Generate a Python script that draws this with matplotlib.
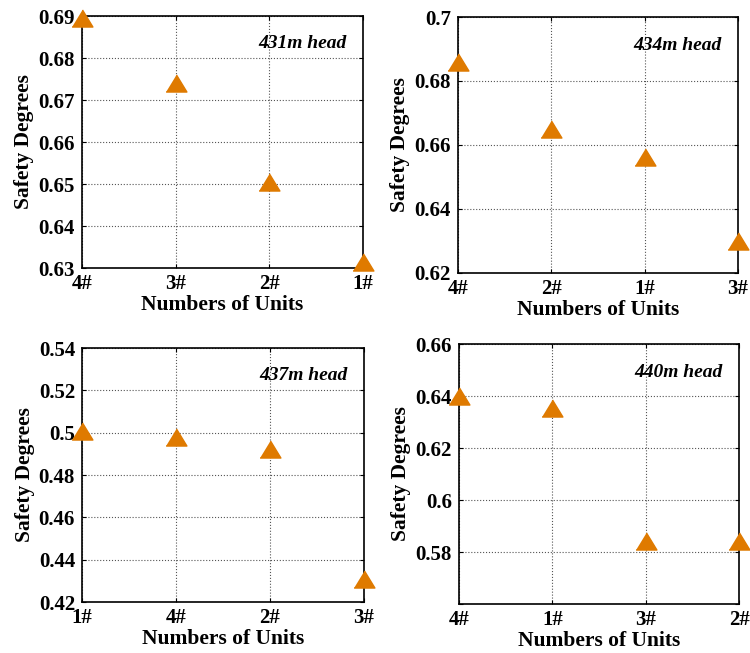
import matplotlib
matplotlib.use("Agg")
import matplotlib.pyplot as plt
import numpy as np

plt.rcParams['font.family'] = ['Liberation Serif', 'DejaVu Serif']

# Data
units_431 = ["4#", "3#", "2#", "1#"]
safety_431 = [0.6895, 0.674, 0.6505, 0.6315]
units_434 = ["4#", "2#", "1#", "3#"]
safety_434 = [0.686, 0.665, 0.6563, 0.630]
units_437 = ["1#", "4#", "2#", "3#"]
safety_437 = [0.501, 0.498, 0.4925, 0.431]
units_440 = ["4#", "1#", "3#", "2#"]
safety_440 = [0.640, 0.6355, 0.5842, 0.5842]

heads = ["431m head", "434m head", "437m head", "440m head"]
ylims = [(0.63, 0.69), (0.62, 0.70), (0.42, 0.54), (0.56, 0.66)]
yticks = [
    [0.63, 0.64, 0.65, 0.66, 0.67, 0.68, 0.69],
    [0.62, 0.64, 0.66, 0.68, 0.70],
    [0.42, 0.44, 0.46, 0.48, 0.50, 0.52, 0.54],
    [0.56, 0.58, 0.60, 0.62, 0.64, 0.66],
]
ytick_labels = [
    ["0.63", "0.64", "0.65", "0.66", "0.67", "0.68", "0.69"],
    ["0.62", "0.64", "0.66", "0.68", "0.7"],
    ["0.42", "0.44", "0.46", "0.48", "0.5", "0.52", "0.54"],
    ["", "0.58", "0.6", "0.62", "0.64", "0.66"],
]

positions = [
    [82/750, 1-268/653, 281/750, 252/653],
    [458/750, 1-273/653, 280/750, 256/653],
    [82/750, 1-602/653, 282/750, 254/653],
    [459/750, 1-604/653, 280/750, 260/653],
]

units_all = [units_431, units_434, units_437, units_440]
safety_all = [safety_431, safety_434, safety_437, safety_440]

tri = [(-1.0, -0.82), (1.0, -0.82), (0.0, 0.82)]
color = '#DF7A00'

fig = plt.figure(figsize=(7.5, 6.53), dpi=100)
for i in range(4):
    ax = fig.add_axes(positions[i])
    x = np.arange(len(units_all[i]))
    ax.plot(x, safety_all[i], linestyle='none', marker=tri, markersize=15,
            color=color, markeredgecolor=color, clip_on=False, zorder=5)
    ax.set_xlim(0, len(x) - 1)
    ax.set_ylim(*ylims[i])
    ax.set_xticks(x)
    ax.set_xticklabels(units_all[i], fontsize=15, fontweight='bold')
    ax.set_yticks(yticks[i])
    ax.set_yticklabels(ytick_labels[i], fontsize=15, fontweight='bold')
    ax.tick_params(direction='in', top=True, right=True, length=3, width=0.8)
    ax.tick_params(axis='x', pad=4)
    ax.tick_params(axis='y', pad=5)
    ax.grid(True, linestyle=':', color='#555555', linewidth=0.8)
    for s in ax.spines.values():
        s.set_linewidth(1.2)
    ax.set_xlabel("Numbers of Units", fontsize=15.5, fontweight='bold', labelpad=1)
    ax.set_ylabel("Safety Degrees", fontsize=15.5, fontweight='bold', labelpad=3)
    ax.text(0.94, 0.89, heads[i], transform=ax.transAxes, ha='right', va='center',
            fontsize=14, fontweight='bold', style='italic')

fig.savefig("out.png", dpi=100)
